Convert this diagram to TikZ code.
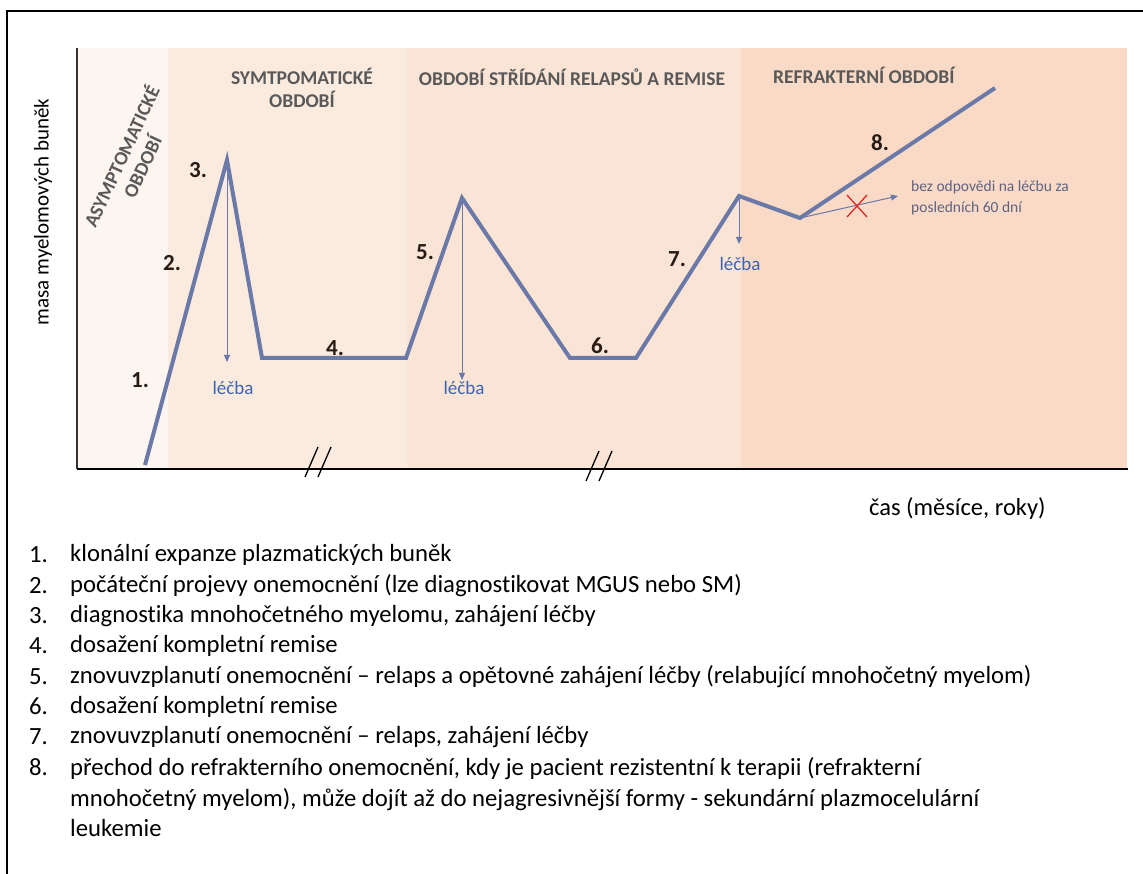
\documentclass[tikz,border=0pt]{standalone}
\usepackage{fontspec}
\setmainfont{Carlito}[Ligatures={NoCommon}]
\usetikzlibrary{arrows.meta}
\definecolor{curvecol}{RGB}{106,121,168}
\definecolor{zoneA}{RGB}{253,245,240}
\definecolor{zoneB}{RGB}{251,235,223}
\definecolor{zoneC}{RGB}{250,228,213}
\definecolor{zoneD}{RGB}{248,218,198}
\definecolor{headcol}{RGB}{89,89,89}
\definecolor{numcol}{RGB}{38,28,20}
\definecolor{lecbacol}{RGB}{60,100,180}
\definecolor{notecol}{RGB}{96,98,130}
\definecolor{crosscol}{RGB}{225,40,40}
\tikzset{
  curveline/.style={draw=curvecol, line width=4pt, line join=miter},
  thinarrow/.style={draw=curvecol, line width=1pt, -{Triangle[length=7pt,width=6pt]}},
  header/.style={font=\fontsize{19.5}{23}\selectfont\bfseries, text=headcol, align=center, inner sep=0pt},
  stepnum/.style={font=\fontsize{23}{26}\selectfont\bfseries, text=numcol, inner sep=0pt},
  lecba/.style={font=\fontsize{19}{22}\selectfont, text=lecbacol, inner sep=0pt},
  axislabel/.style={font=\fontsize{21}{24}\selectfont, text=black, inner sep=0pt},
  xlabelstyle/.style={font=\fontsize{24.5}{28}\selectfont, text=black, inner sep=0pt},
  legnum/.style={font=\fontsize{24.7}{30.3}\selectfont, anchor=west, inner sep=0pt},
  legtext/.style={font=\fontsize{24.7}{30.3}\selectfont, anchor=west, inner sep=0pt, align=left},
  breakmark/.style={draw=black, line width=1.3pt},
}
\begin{document}
\begin{tikzpicture}[x=1pt,y=-1pt]
\useasboundingbox (0,0) rectangle (1143,874);
\fill[white] (0,0) rectangle (1143,874);
% frame
\draw[line width=2pt] (7,874) -- (7,11) -- (1143,11);
% zones
\fill[zoneA] (77,48) rectangle (168,469);
\fill[zoneB] (168,48) rectangle (407,469);
\fill[zoneC] (407,48) rectangle (741,469);
\fill[zoneD] (741,48) rectangle (1127,469);
% axes
\coordinate (yaxtop) at (77,48);
\coordinate (origin) at (77,469);
\coordinate (xaxend) at (1128,469);
\draw[line width=1.8pt, draw=black!80] (yaxtop) -- (origin);
\draw[line width=2pt] (origin) -- (xaxend);
% break marks
\draw[breakmark] (305,477) -- (318,447);
\draw[breakmark] (318,477) -- (331,447);
\draw[breakmark] (586,481) -- (599,451);
\draw[breakmark] (599,481) -- (612,451);
% headers
\node[header, rotate=65] (hA) at (131,161) {ASYMPTOMATICKÉ\\OBDOBÍ};
\node[header] (hB) at (302,88) {SYMTPOMATICKÉ\\OBDOBÍ};
\node[header] (hC) at (572,77) {OBDOBÍ STŘÍDÁNÍ RELAPSŮ A REMISE};
\node[header, anchor=west] (hD) at (773,75) {REFRAKTERNÍ OBDOBÍ};
% axis labels
\node[axislabel, rotate=90] (ylab) at (43,212) {masa myelomových buněk};
\node[xlabelstyle, anchor=west] (xlab) at (869,509) {čas (měsíce, roky)};
% curve points
\coordinate (p0) at (145,465);
\coordinate (p1) at (227,160);
\coordinate (p2) at (262,358);
\coordinate (p3) at (406,358);
\coordinate (p4) at (462,198);
\coordinate (p5) at (570,358);
\coordinate (p6) at (636,358);
\coordinate (p7) at (739,196);
\coordinate (p8) at (800,218);
\coordinate (p9) at (995,88);
\draw[curveline] (p0) -- (p1) -- (p2) -- (p3) -- (p4) -- (p5) -- (p6) -- (p7) -- (p8) -- (p9);
% treatment arrows
\coordinate (a1) at (227,362);
\coordinate (a2) at (462,380);
\coordinate (a3) at (739,244);
\draw[thinarrow] (p1) -- (a1);
\draw[thinarrow] (p4) -- (a2);
\draw[thinarrow] (p7) -- (a3);
\node[lecba] (l1) at (233,388) {léčba};
\node[lecba] (l2) at (464,388) {léčba};
\node[lecba] (l3) at (740,264) {léčba};
% no response arrow
\coordinate (nr) at (898,196);
\draw[thinarrow] (p8) -- (nr);
\coordinate (xc) at (857,206);
\draw[crosscol, line width=1.3pt] ([shift={(-10,-11)}]xc) -- ([shift={(10,11)}]xc);
\draw[crosscol, line width=1.3pt] ([shift={(-10,11)}]xc) -- ([shift={(10,-11)}]xc);
\node[font=\fontsize{15.5}{21}\selectfont, text=notecol, anchor=west, align=left, inner sep=0pt] (note) at (911,198) {bez odpovědi na léčbu za\\posledních 60 dní};
% step numbers
\node[stepnum] (n1) at (140,380) {1.};
\node[stepnum] (n2) at (172,263) {2.};
\node[stepnum] (n3) at (198,170) {3.};
\node[stepnum] (n4) at (335,348) {4.};
\node[stepnum] (n5) at (425,252) {5.};
\node[stepnum] (n6) at (600,346) {6.};
\node[stepnum] (n7) at (677,259) {7.};
\node[stepnum] (n8) at (880,143) {8.};
% legend
\foreach \i/\t in {0/klonální expanze plazmatických buněk,
  1/počáteční projevy onemocnění (lze diagnostikovat MGUS nebo SM),
  2/diagnostika mnohočetného myelomu{,} zahájení léčby,
  3/dosažení kompletní remise,
  4/znovuvzplanutí onemocnění – relaps a opětovné zahájení léčby (relabující mnohočetný myelom),
  5/dosažení kompletní remise,
  6/znovuvzplanutí onemocnění – relaps{,} zahájení léčby} {
  \pgfmathtruncatemacro{\num}{\i+1}
  \node[legnum] (ln\num) at (29,555+30.3*\i) {\num.};
  \node[legtext] (lt\num) at (70,555+30.3*\i) {\t};
}
\node[legnum] (ln8) at (29,767) {8.};
\node[legtext] (lt8) at (70,797.3) {přechod do refrakterního onemocnění, kdy je pacient rezistentní k terapii (refrakterní\\mnohočetný myelom), může dojít až do nejagresivnější formy - sekundární plazmocelulární\\leukemie};
\end{tikzpicture}
\end{document}
